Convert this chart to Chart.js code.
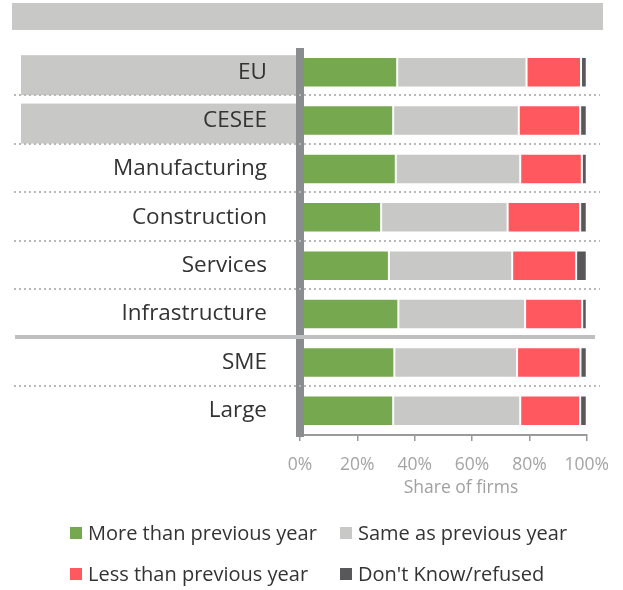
<!DOCTYPE html>
<html>
<head>
<meta charset="utf-8">
<script src="https://cdn.jsdelivr.net/npm/chart.js@4.4.0/dist/chart.umd.min.js"></script>
<style>
  body { margin: 0; background: #fff; }
  #wrap { position: relative; width: 623px; height: 590px; }
  #legend { position: absolute; left: 0; top: 0; font-family: 'Open Sans', sans-serif; font-size: 20px; color: #333; }
  .item { position: absolute; white-space: nowrap; line-height: 24px; }
  .sw { position: absolute; width: 12px; height: 12px; }
</style>
</head>
<body>
<div id="wrap">
  <canvas id="chart" width="623" height="590"></canvas>
  <div id="legend"></div>
</div>
<script>
const categories = ['EU', 'CESEE', 'Manufacturing', 'Construction', 'Services', 'Infrastructure', 'SME', 'Large'];
const moreThanPrev = [33.9, 32.5, 33.4, 28.3, 31.0, 34.3, 32.9, 32.5];
const sameAsPrev   = [45.1, 43.8, 43.4, 44.1, 43.0, 44.2, 42.8, 44.3];
const lessThanPrev = [19.0, 21.4, 21.5, 25.3, 22.3, 19.9, 22.1, 20.9];
const dontKnow     = [2.0, 2.3, 1.7, 2.3, 3.7, 1.6, 2.2, 2.3];
const seriesNames = ['More than previous year', 'Same as previous year', 'Less than previous year', "Don't Know/refused"];
const xTickValues = [0, 20, 40, 60, 80, 100];
const xTitle = 'Share of firms';

// rows with grey label box, and where the sector/size groups split
const boxedRows = ['EU', 'CESEE'];
const groupBreakAfter = 5;

const colors = ['#75a84f', '#c8c8c6', '#ff585f', '#58585a'];
const FONT = "'Open Sans', sans-serif";

const decor = {
  id: 'decor',
  beforeDraw(chart) {
    const { ctx, scales: { y } } = chart;
    ctx.save();
    ctx.fillStyle = '#c8c8c6';
    ctx.fillRect(12, 3, 591, 27);
    boxedRows.forEach(name => {
      const c = y.getPixelForValue(categories.indexOf(name));
      ctx.fillRect(21, c - 17, 276, 40);
    });
    ctx.restore();
  },
  afterDatasetsDraw(chart) {
    const { ctx, chartArea: a, scales: { y } } = chart;
    ctx.save();
    // vertical axis bar
    ctx.fillStyle = '#8a8c8e';
    ctx.fillRect(a.left - 4, a.top, 8, a.bottom - a.top + 2);
    // row separators
    for (let i = 0; i < categories.length - 1; i++) {
      const yy = Math.round((y.getPixelForValue(i) + y.getPixelForValue(i + 1)) / 2) - 1;
      if (i === groupBreakAfter) {
        ctx.fillStyle = '#c0c0c0';
        ctx.fillRect(15, yy - 2, 580, 4);
      } else {
        ctx.strokeStyle = '#b8b8b8';
        ctx.lineWidth = 2;
        ctx.setLineDash([2, 3]);
        ctx.beginPath();
        ctx.moveTo(14, yy);
        ctx.lineTo(600, yy);
        ctx.stroke();
      }
    }
    ctx.setLineDash([]);
    // axis title, sits a bit right of the plot centre in the original
    ctx.fillStyle = '#a0a0a0';
    ctx.font = '17.5px ' + FONT;
    ctx.textAlign = 'center';
    ctx.textBaseline = 'middle';
    ctx.fillText(xTitle, 461, 488);
    ctx.restore();
  }
};

const seriesData = [moreThanPrev, sameAsPrev, lessThanPrev, dontKnow];

const chart = new Chart(document.getElementById('chart'), {
  type: 'bar',
  data: {
    labels: categories,
    datasets: seriesData.map((d, i) => ({
      label: seriesNames[i],
      data: d,
      backgroundColor: colors[i],
      borderColor: '#ffffff',
      borderWidth: 1,
      borderSkipped: false,
      categoryPercentage: 1,
      barPercentage: 0.63
    }))
  },
  options: {
    indexAxis: 'y',
    responsive: false,
    devicePixelRatio: 1,
    animation: false,
    layout: { padding: { left: 0, right: 36, top: 48, bottom: 85 } },
    plugins: { legend: { display: false }, tooltip: { enabled: false } },
    scales: {
      x: {
        stacked: true,
        min: 0,
        max: 100,
        afterBuildTicks: s => { s.ticks = xTickValues.map(v => ({ value: v })); },
        afterFit: s => { s.height = 70; },
        grid: { drawOnChartArea: false, drawTicks: true, tickLength: 6, color: '#9a9a9a', lineWidth: 1.5 },
        border: { display: true, color: '#9a9a9a', width: 2 },
        ticks: { padding: 14, color: '#a4a4a4', font: { family: FONT, size: 17.5 }, callback: v => v + '%' }
      },
      y: {
        stacked: true,
        afterFit: s => { s.width = 300; },
        grid: { display: false, drawTicks: false },
        border: { display: false },
        ticks: { padding: 33, color: '#333', font: { family: FONT, size: 22.5 } }
      }
    }
  },
  plugins: [decor]
});

// legend, two columns
const legend = document.getElementById('legend');
const legendCols = [70, 340];
const legendRows = [533, 574];
seriesNames.forEach((name, i) => {
  const x = legendCols[i % 2];
  const yc = legendRows[Math.floor(i / 2)];
  const sw = document.createElement('div');
  sw.className = 'sw';
  sw.style.left = x + 'px';
  sw.style.top = (yc - 6) + 'px';
  sw.style.background = colors[i];
  const t = document.createElement('div');
  t.className = 'item';
  t.style.left = (x + 18) + 'px';
  t.style.top = (yc - 12) + 'px';
  t.textContent = name;
  legend.appendChild(sw);
  legend.appendChild(t);
});
</script>
</body>
</html>
